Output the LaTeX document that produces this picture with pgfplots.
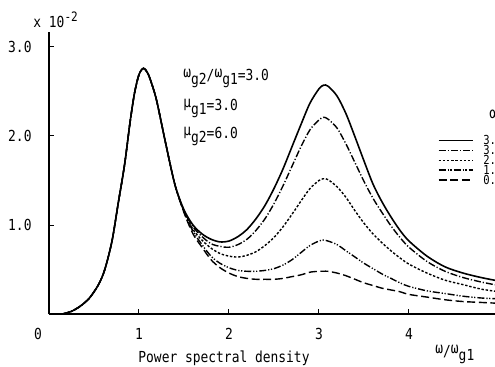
\documentclass[border=0pt]{standalone}
\usepackage{pgfplots}
\pgfplotsset{compat=1.18}
\usepackage{pgfplotstable}
\usepackage{fontspec}
\setmainfont{DejaVu Sans Mono}[FakeStretch=0.85]
\newcommand\up[1]{\raisebox{1.2pt}{#1}}
\newcommand\dn[1]{\raisebox{-2pt}{#1}}

\pgfplotstableread{
x    a    b    c    d    e
0.15 0.00 0.00 0.00 0.00 0.00
0.25 0.03 0.03 0.03 0.03 0.03
0.35 0.09 0.09 0.09 0.09 0.09
0.45 0.18 0.18 0.18 0.18 0.18
0.55 0.33 0.33 0.33 0.33 0.33
0.62 0.50 0.50 0.50 0.50 0.50
0.70 0.82 0.82 0.82 0.82 0.82
0.77 1.25 1.25 1.25 1.25 1.25
0.84 1.68 1.68 1.68 1.68 1.68
0.90 2.15 2.15 2.15 2.15 2.15
0.95 2.48 2.48 2.48 2.48 2.48
1.00 2.69 2.69 2.69 2.69 2.69
1.05 2.76 2.76 2.76 2.76 2.76
1.10 2.70 2.70 2.70 2.70 2.70
1.15 2.56 2.56 2.56 2.56 2.56
1.20 2.38 2.38 2.38 2.38 2.38
1.30 1.90 1.90 1.90 1.90 1.90
1.40 1.45 1.45 1.45 1.45 1.45
1.50 1.17 1.16 1.15 1.15 1.14
1.60 1.00 0.98 0.95 0.93 0.90
1.70 0.90 0.87 0.83 0.78 0.75
1.80 0.84 0.79 0.74 0.65 0.61
1.90 0.81 0.76 0.68 0.57 0.52
2.00 0.82 0.75 0.65 0.52 0.46
2.10 0.87 0.78 0.64 0.49 0.42
2.20 0.95 0.84 0.66 0.48 0.40
2.30 1.07 0.94 0.70 0.48 0.39
2.40 1.22 1.07 0.77 0.49 0.39
2.50 1.41 1.24 0.86 0.51 0.39
2.60 1.63 1.44 0.98 0.55 0.40
2.70 1.88 1.66 1.12 0.61 0.42
2.80 2.13 1.88 1.27 0.69 0.44
2.90 2.37 2.07 1.41 0.77 0.47
3.00 2.53 2.18 1.50 0.82 0.48
3.05 2.57 2.21 1.52 0.83 0.48
3.10 2.56 2.19 1.51 0.82 0.48
3.20 2.45 2.09 1.43 0.78 0.46
3.30 2.25 1.91 1.31 0.71 0.43
3.40 1.99 1.70 1.16 0.64 0.39
3.50 1.72 1.49 1.02 0.57 0.35
3.60 1.46 1.30 0.90 0.51 0.32
3.70 1.26 1.14 0.80 0.45 0.29
3.80 1.09 0.99 0.71 0.40 0.27
3.90 0.94 0.86 0.63 0.35 0.25
4.00 0.82 0.75 0.56 0.31 0.22
4.20 0.65 0.59 0.46 0.26 0.19
4.40 0.53 0.48 0.38 0.23 0.16
4.60 0.46 0.41 0.33 0.20 0.14
4.80 0.41 0.36 0.28 0.18 0.13
5.00 0.37 0.32 0.25 0.17 0.12
}\data

\begin{document}
\fontsize{7.6}{9}\selectfont
\begin{tikzpicture}[font=\fontsize{7.6}{9}\selectfont]
\begin{axis}[
  at={(0,0)}, anchor=origin,
  x=45pt, y=44.5pt,
  xmin=0, xmax=5, ymin=0, ymax=3.17,
  axis x line=bottom, axis y line=left,
  axis line style={-, line width=0.6pt},
  tick align=inside, major tick length=2.5pt,
  tick style={line width=0.5pt, black},
  xtick={1,2,3,4,5}, xticklabels={1,2,3,4,5},
  extra x ticks={0}, extra x tick labels={0},
  extra x tick style={xticklabel style={xshift=-5.5pt}, major tick length=0pt},
  ytick={1,2,3}, yticklabels={1.0,2.0,3.0},
  xticklabel style={yshift=-4.6pt},
  yticklabel style={xshift=-6pt},
  legend style={at={(axis cs:4.32,1.99)}, anchor=north west, draw=none, fill=none,
    inner sep=0pt, outer sep=0pt, row sep=0.9pt, column sep=5pt,
    font=\fontsize{6.2}{7}\selectfont,
    nodes={inner sep=0pt, text height=4pt, text depth=0pt, anchor=base west}},
  legend cell align=left,
  legend image code/.code={\draw[#1] (0pt,2.1pt) -- (17pt,2.1pt);},
]
\addplot[black, line width=0.8pt, smooth] table[x=x, y=a] {\data};
\addlegendentry{3.5}
\addplot[black, line width=0.7pt, smooth, dash pattern=on 3.5pt off 1pt on 0.6pt off 1pt] table[x=x, y=b] {\data};
\addlegendentry{3.0}
\addplot[black, line width=0.7pt, smooth, dash pattern=on 1.2pt off 0.9pt] table[x=x, y=c] {\data};
\addlegendentry{2.0}
\addplot[black, line width=0.7pt, smooth, dash pattern=on 3.5pt off 1pt on 0.6pt off 0.8pt on 0.6pt off 1pt] table[x=x, y=d] {\data};
\addlegendentry{1.0}
\addplot[black, line width=0.7pt, smooth, dash pattern=on 4pt off 1.8pt] table[x=x, y=e] {\data};
\addlegendentry{0.5}
\end{axis}
\node[anchor=base west, inner sep=0pt] at (-8pt,143.5pt) {x 10\raisebox{3pt}{\fontsize{6.5}{7}\selectfont -2}};
\node[anchor=base west, inner sep=0pt] at (67pt,117pt) {\up{ω}\dn{g2}/\up{ω}\dn{g1}=3.0};
\node[anchor=base west, inner sep=0pt] at (67pt,102pt) {\up{μ}\dn{g1}=3.0};
\node[anchor=base west, inner sep=0pt] at (67pt,88pt) {\up{μ}\dn{g2}=6.0};
\node[anchor=base, inner sep=0pt] at (87.5pt,-24pt) {Power spectral density};
\node[anchor=base west, inner sep=0pt] at (193pt,-21pt) {\up{ω}/\up{ω}\dn{g1}};
\node[anchor=base west, inner sep=0pt] at (220pt,98pt) {α};
\pgfresetboundingbox
\path[use as bounding box] (-24.5pt,-26pt) rectangle (223pt,157pt);
\end{tikzpicture}
\end{document}
